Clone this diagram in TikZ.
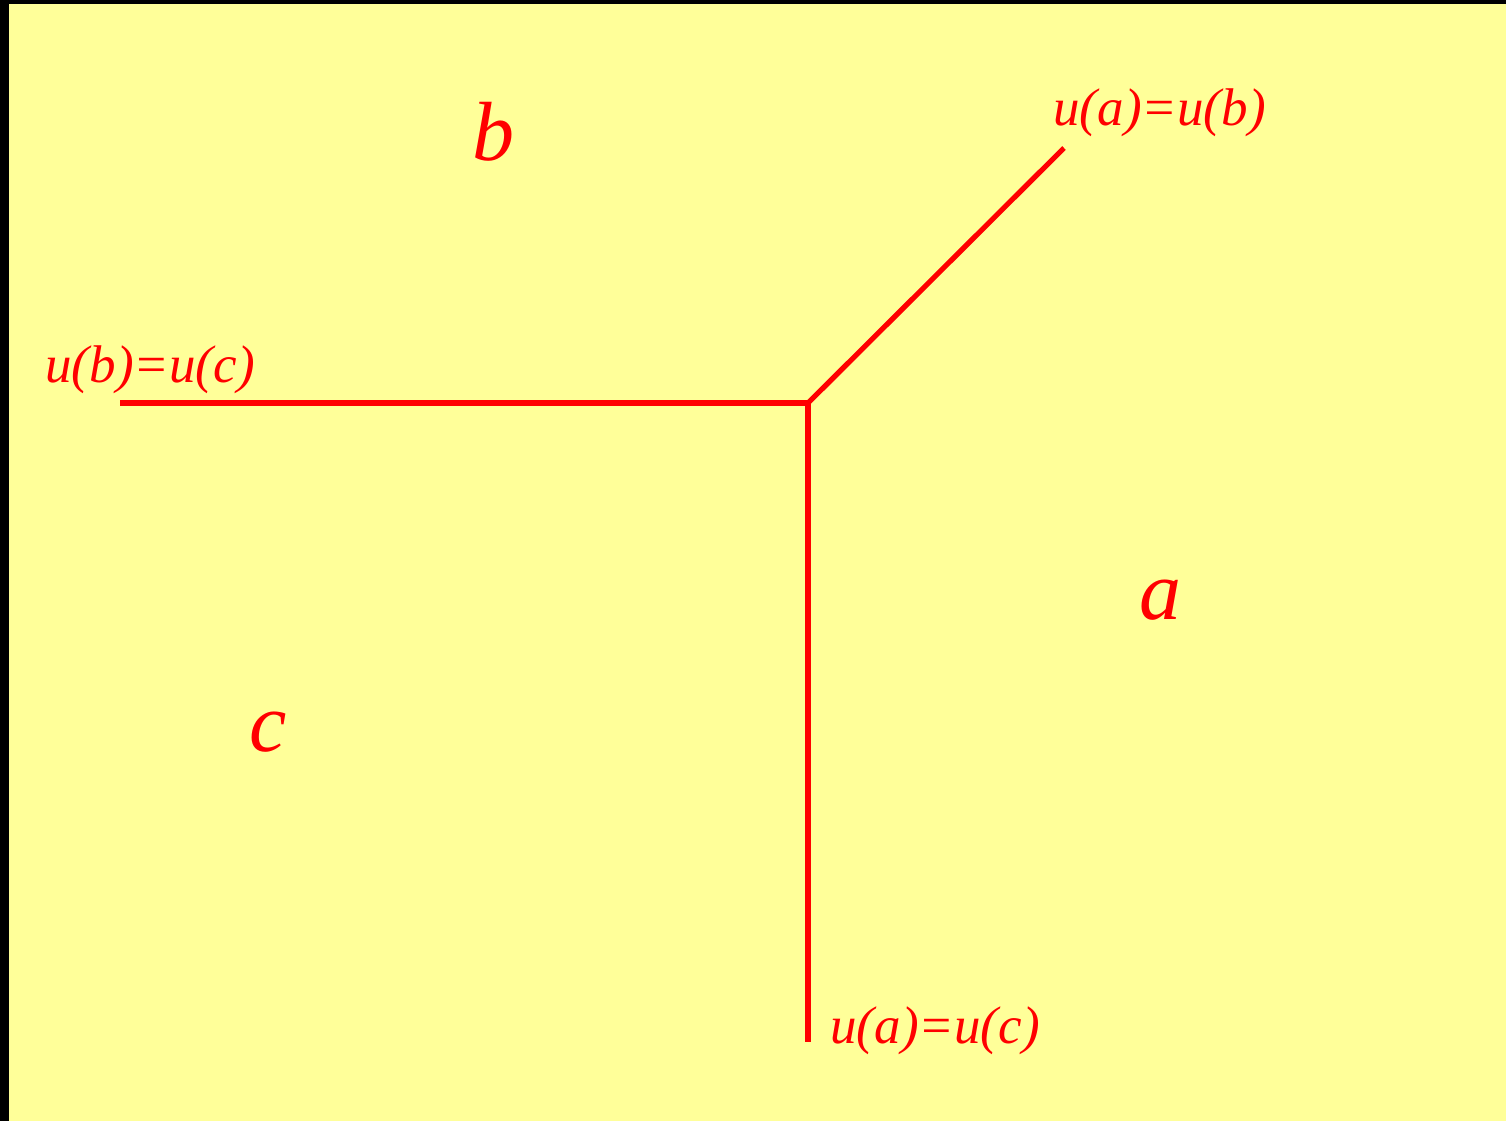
\documentclass[tikz,border=0pt]{standalone}
\usepackage{fontspec}
\setmainfont{Liberation Serif}
\definecolor{bgyellow}{HTML}{FFFF99}
\definecolor{lred}{HTML}{FF0000}
\begin{document}
\begin{tikzpicture}[x=0.5pt,y=-0.5pt,
  edge/.style={draw=lred,line width=2.6pt},
  lbl/.style={text=lred,inner sep=0pt,anchor=base west,font=\fontsize{26.5}{30}\selectfont\itshape},
  region/.style={text=lred,inner sep=0pt,anchor=base,font=\fontsize{42}{48}\selectfont\itshape}]
\useasboundingbox (0,0) rectangle (1506,1121);
\fill[black] (0,0) rectangle (1506,1121);
\fill[bgyellow] (9,4) rectangle (1506,1121);
\coordinate (o) at (808,403);
\coordinate (w) at (120,403);
\coordinate (s) at (808,1042);
\coordinate (ne) at (1064,148);
\draw[edge] (w) -- (o) -- (s);
\draw[edge] (o) -- (ne);
\node[lbl] (lab) at (1053,125) {u(a)=u(b)};
\node[lbl] (lbc) at (45,382) {u(b)=u(c)};
\node[lbl] (lac) at (830,1043) {u(a)=u(c)};
\node[region] (rb) at (493,160) {b};
\node[region] (ra) at (1160,619) {a};
\node[region] (rc) at (268,751) {c};
\end{tikzpicture}
\end{document}
